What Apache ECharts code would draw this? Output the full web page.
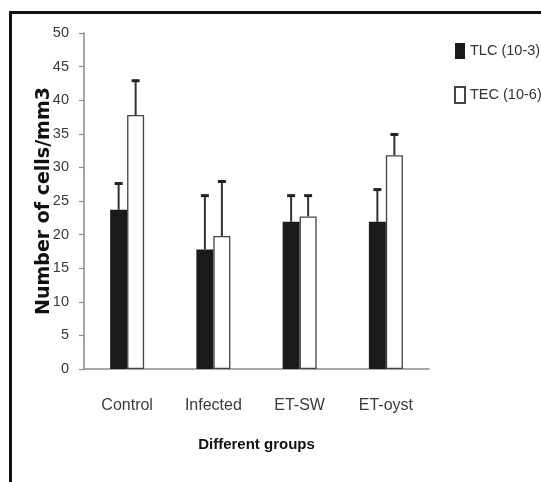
<!DOCTYPE html>
<html>
<head>
<meta charset="utf-8">
<script src="https://cdn.jsdelivr.net/npm/echarts@6/dist/echarts.min.js"></script>
<style>
  html, body { margin: 0; padding: 0; background: #fff; }
  #wrap { position: relative; width: 541px; height: 482px; }
  #chart { position: absolute; left: 0; top: 0; width: 541px; height: 482px; }
  #frame { position: absolute; left: 9px; top: 11px; right: -5px; bottom: -5px;
           border-top: 3px solid #111; border-left: 3px solid #111; pointer-events: none; }
</style>
</head>
<body>
<div id="wrap">
  <div id="chart"></div>
  <div id="frame"></div>
</div>
<script>
// ---- data ----
const categories = ['Control', 'Infected', 'ET-SW', 'ET-oyst'];
const seriesNames = ['TLC (10-3)', 'TEC (10-6)'];
const tlcValues = [23.7, 17.8, 21.9, 21.9];
const tlcUpper  = [27.6, 25.8, 25.8, 26.7];
const tecValues = [37.8, 19.8, 22.7, 31.8];
const tecUpper  = [42.9, 27.9, 25.8, 34.9];
const yTicks = [0, 5, 10, 15, 20, 25, 30, 35, 40, 45, 50];
const xTitle = 'Different groups';
const yTitle = 'Number of cells/mm3';

const FONT = '"Liberation Sans", Arial, sans-serif';
const BAR_W = 17;

function errorSeries(values, upper, offset) {
  return {
    type: 'custom',
    coordinateSystem: 'cartesian2d',
    silent: true,
    z: 5,
    encode: { x: 0, y: [1, 2] },
    data: values.map((v, i) => [i, v, upper[i]]),
    renderItem: function (params, api) {
      const base = api.coord([api.value(0), api.value(1)]);
      const top = api.coord([api.value(0), api.value(2)]);
      const x = base[0] + offset;
      return {
        type: 'group',
        children: [
          { type: 'line', shape: { x1: x, y1: base[1], x2: x, y2: top[1] },
            style: { stroke: '#333', lineWidth: 2 } },
          { type: 'line', shape: { x1: x - 4, y1: top[1], x2: x + 4, y2: top[1] },
            style: { stroke: '#222', lineWidth: 3 } }
        ]
      };
    }
  };
}

const chart = echarts.init(document.getElementById('chart'), null, { renderer: 'canvas' });
chart.setOption({
  animation: false,
  backgroundColor: '#fff',
  grid: { left: 84, right: 112, top: 33, bottom: 113, containLabel: false },
  legend: {
    orient: 'vertical',
    left: 454,
    top: 43,
    padding: 0,
    itemWidth: 10,
    itemHeight: 16,
    itemGap: 27,
    icon: 'rect',
    data: seriesNames,
    textStyle: { fontFamily: FONT, fontSize: 14.5, color: '#333', lineHeight: 16 }
  },
  xAxis: {
    type: 'category',
    data: categories,
    axisLine: { lineStyle: { color: '#8a8a8a', width: 1.5 } },
    axisTick: { show: false },
    axisLabel: { margin: 29, fontFamily: FONT, fontSize: 16, color: '#3a3a3a' },
    name: xTitle,
    nameLocation: 'middle',
    nameGap: 68,
    nameMoveOverlap: false,
    nameTextStyle: { fontFamily: FONT, fontSize: 15, fontWeight: 'bold', color: '#111' }
  },
  yAxis: {
    type: 'value',
    min: yTicks[0],
    max: yTicks[yTicks.length - 1],
    interval: yTicks[1] - yTicks[0],
    splitLine: { show: false },
    axisLine: { show: true, lineStyle: { color: '#8a8a8a', width: 1.5 } },
    axisTick: { show: true, length: 5, lineStyle: { color: '#8a8a8a', width: 1.2 } },
    axisLabel: { margin: 15, fontFamily: FONT, fontSize: 14.5, color: '#3a3a3a' },
    name: yTitle,
    nameLocation: 'middle',
    nameGap: 30,
    nameMoveOverlap: false,
    nameRotate: 90,
    nameTextStyle: { fontFamily: '"DejaVu Sans", sans-serif', fontSize: 19, fontWeight: 'bold', color: '#111' }
  },
  series: [
    {
      name: seriesNames[0],
      type: 'bar',
      barWidth: BAR_W,
      barGap: '0%',
      data: tlcValues,
      itemStyle: { color: '#1a1a1a', borderColor: '#1a1a1a', borderWidth: 0 }
    },
    {
      name: seriesNames[1],
      type: 'bar',
      barWidth: BAR_W,
      barGap: '0%',
      data: tecValues,
      itemStyle: { color: '#ffffff', borderColor: '#444', borderWidth: 1.3 }
    },
    errorSeries(tlcValues, tlcUpper, -BAR_W / 2),
    errorSeries(tecValues, tecUpper, BAR_W / 2)
  ]
});
</script>
</body>
</html>
